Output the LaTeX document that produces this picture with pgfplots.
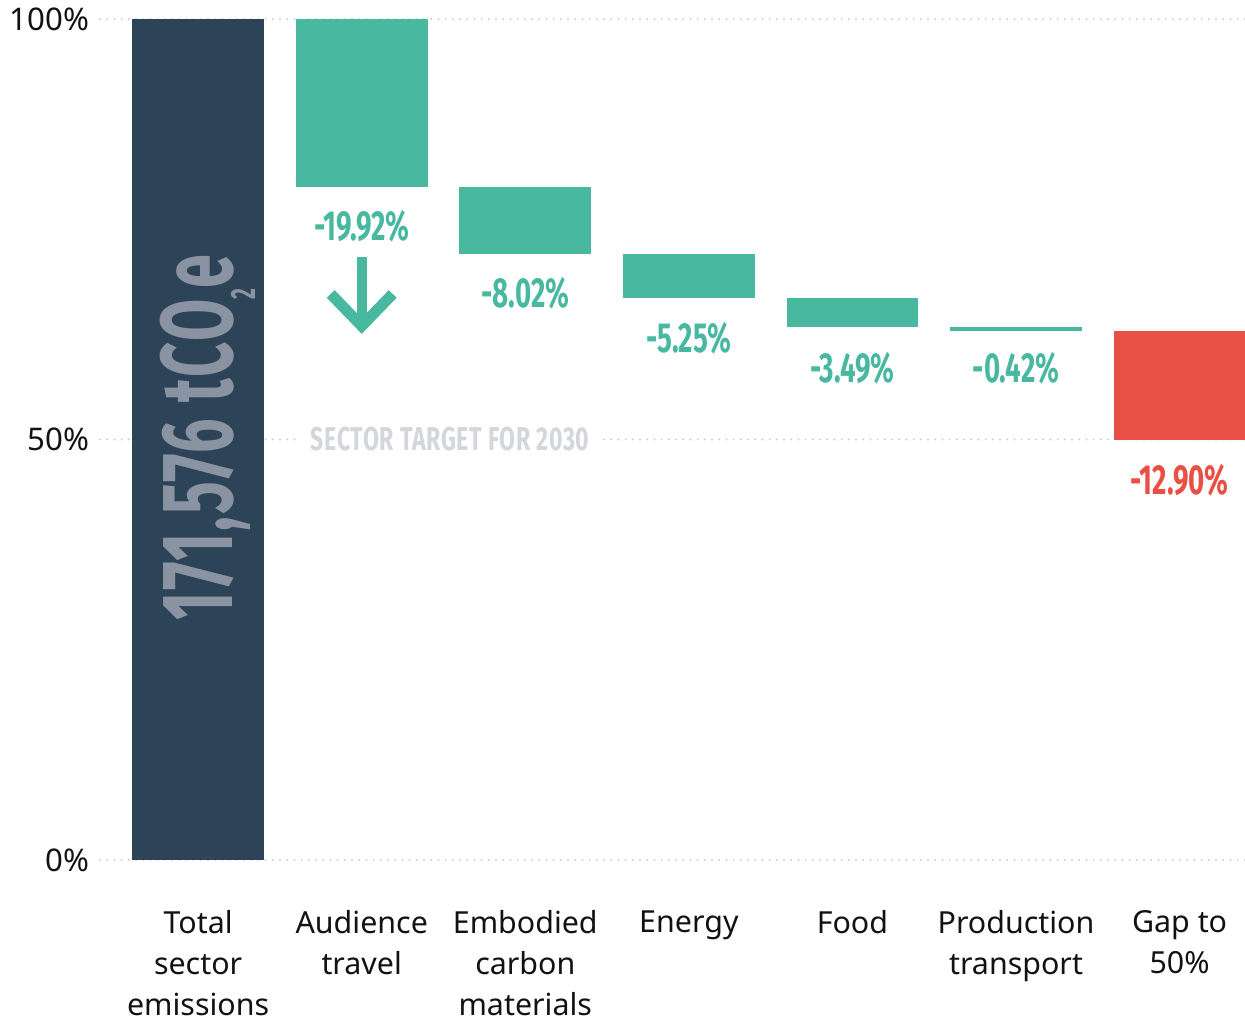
\documentclass[border=0pt]{standalone}
\usepackage{pgfplots}
\pgfplotsset{compat=1.18}
\usepackage{fontspec}
\setmainfont{Noto Sans}
\newfontfamily\condfont{Fira Sans}[FakeStretch=0.66]
\newfontfamily\targetfont{Fira Sans}[FakeStretch=0.70, LetterSpace=2]
\newfontfamily\bigfont{Fira Sans}[FakeStretch=0.60, LetterSpace=1.5]
\definecolor{navy}{HTML}{2D4357}
\definecolor{tealc}{HTML}{48B8A0}
\definecolor{redc}{HTML}{E85045}
\definecolor{bigtxt}{HTML}{8A93A1}
\definecolor{targettxt}{HTML}{D3D6DA}
\definecolor{gridc}{HTML}{CFCFCF}
\begin{document}
\begin{tikzpicture}
\begin{axis}[
  scale only axis, width=572.5pt, height=420.5pt,
  xmin=-0.6, xmax=6.4, ymin=0, ymax=100,
  clip=false,
  axis line style={draw=none},
  major tick length=0pt,
  ytick={0,50,100}, yticklabels={0\%,50\%,100\%},
  yticklabel style={font=\fontsize{15.6}{18}\selectfont, text=black!93, xshift=-2pt},
  ymajorgrids, grid style={gridc, line width=1.1pt, line cap=round, dash pattern=on 0pt off 3.6pt},
  xtick={0,1,2,3,4,5,6},
  xticklabels={{Total\\sector\\emissions},{Audience\\travel},{Embodied\\carbon\\materials},{Energy},{Food},{Production\\transport},{Gap to\\50\%}},
  xticklabel style={align=center, anchor=north, inner ysep=0.5pt, yshift=-24.5pt, font=\fontsize{15.2}{20.6}\selectfont, text=black!93},
]
% waterfall bars: each from its low value to its high value, bar width 0.806
\addplot[draw=none, fill=navy]  coordinates {(-0.403,0) (0.403,0) (0.403,100) (-0.403,100)} -- cycle;
\addplot[draw=none, fill=tealc] coordinates {(0.597,80.08) (1.403,80.08) (1.403,100) (0.597,100)} -- cycle;
\addplot[draw=none, fill=tealc] coordinates {(1.597,72.06) (2.403,72.06) (2.403,80.08) (1.597,80.08)} -- cycle;
\addplot[draw=none, fill=tealc] coordinates {(2.597,66.81) (3.403,66.81) (3.403,72.06) (2.597,72.06)} -- cycle;
\addplot[draw=none, fill=tealc] coordinates {(3.597,63.32) (4.403,63.32) (4.403,66.81) (3.597,66.81)} -- cycle;
\addplot[draw=none, fill=tealc] coordinates {(4.597,62.90) (5.403,62.90) (5.403,63.32) (4.597,63.32)} -- cycle;
\addplot[draw=none, fill=redc]  coordinates {(5.597,50.00) (6.403,50.00) (6.403,62.90) (5.597,62.90)} -- cycle;

\coordinate (bl) at (rel axis cs:0,0);
\coordinate (tr) at (rel axis cs:1,1);

\node[text=targettxt, fill=white, inner xsep=6pt, inner ysep=2pt, font=\targetfont\bfseries\fontsize{16.5}{16.5}\selectfont] at (axis cs:1.54,50.06) {SECTOR TARGET FOR 2030};

\node[text=tealc, font=\condfont\bfseries\fontsize{21}{21}\selectfont] at (axis cs:1,75.4) {-19.92\%};
\node[text=tealc, font=\condfont\bfseries\fontsize{21}{21}\selectfont] at (axis cs:2,67.4) {-8.02\%};
\node[text=tealc, font=\condfont\bfseries\fontsize{21}{21}\selectfont] at (axis cs:3,62.1) {-5.25\%};
\node[text=tealc, font=\condfont\bfseries\fontsize{21}{21}\selectfont] at (axis cs:4,58.5) {-3.49\%};
\node[text=tealc, font=\condfont\bfseries\fontsize{21}{21}\selectfont] at (axis cs:5,58.5) {-0.42\%};
\node[text=redc, font=\condfont\bfseries\fontsize{21}{21}\selectfont] at (axis cs:6,45.2) {-12.90\%};

\draw[tealc, line width=5pt] (axis cs:1,71.7) -- (axis cs:1,64.5);
\draw[tealc, line width=5.5pt, miter limit=10] ([xshift=-15.5pt,yshift=16pt]axis cs:1,63.5) -- (axis cs:1,63.5) -- ([xshift=15.5pt,yshift=16pt]axis cs:1,63.5);

\node[rotate=90, anchor=base, text=bigtxt, inner sep=0pt, font=\bigfont\bfseries\fontsize{51}{51}\selectfont] at (axis cs:0.208,50.2) {171,576 tCO\raisebox{-11.5pt}{\fontsize{17.5}{17.5}\selectfont 2}e};
\end{axis}
\pgfresetboundingbox
\path ([xshift=-50pt,yshift=-82pt]bl) rectangle ([yshift=9.5pt]tr);
\end{tikzpicture}
\end{document}
